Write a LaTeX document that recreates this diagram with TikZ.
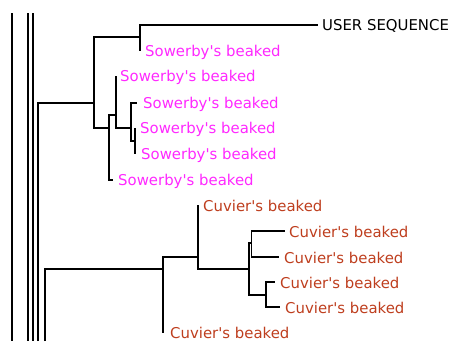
\documentclass[tikz,border=0pt]{standalone}
\usepackage{fontspec}
\setmainfont{DejaVu Sans}
\definecolor{sow}{RGB}{255,40,255}
\definecolor{cuv}{RGB}{190,62,30}
\tikzset{
  br/.style={line width=1.8pt, black},
  lab/.style={anchor=base west, inner sep=0pt, font=\fontsize{14.9}{16}\selectfont},
  sowl/.style={lab, text=sow},
  cuvl/.style={lab, text=cuv},
}
\newcommand{\sowt}{Sowerby\textquotesingle s beaked}
\newcommand{\cuvt}{Cuvier\textquotesingle s beaked}
\begin{document}
\begin{tikzpicture}[x=1pt,y=-1pt]
\useasboundingbox (0,0) rectangle (454,341);
% ancestral lines
\coordinate (a1t) at (12,13);  \coordinate (a1b) at (12,341);
\coordinate (a2t) at (28,13);  \coordinate (a2b) at (28,341);
\coordinate (a3t) at (33,13);  \coordinate (a3b) at (33,341);
\coordinate (b1) at (38,341);
\coordinate (b2) at (45,341);
\draw[br] (a1t) -- (a1b);
\draw[br] (a2t) -- (a2b);
\draw[br] (a3t) -- (a3b);
% Sowerby clade
\coordinate (S0) at (94,103);
\coordinate (S1) at (140,37);
\coordinate (S2) at (109,128);
\coordinate (S3) at (116,115);
\coordinate (S4) at (131,128);
\coordinate (S5) at (135,141);
\coordinate (L0) at (318,25);
\coordinate (L1) at (140,51);
\coordinate (L2) at (116,76);
\coordinate (L3) at (137,103);
\coordinate (L4) at (135,128);
\coordinate (L5) at (135,154);
\coordinate (L6) at (113,180);
\draw[br] (b1) |- (S0);
\draw[br] (S0) |- (S1);
\draw[br] (S0) |- (S2);
\draw[br] (S1) |- (L0);
\draw[br] (S1) |- (L1);
\draw[br] (S2) |- (S3);
\draw[br] (S2) |- (L6);
\draw[br] (S3) |- (L2);
\draw[br] (S3) |- (S4);
\draw[br] (S4) |- (L3);
\draw[br] (S4) |- (S5);
\draw[br] (S5) |- (L4);
\draw[br] (S5) |- (L5);
\node[lab] (t0) at (322,30.5) {USER SEQUENCE};
\node[sowl] (t1) at (145,56.5) {\sowt};
\node[sowl] (t2) at (120,81.5) {\sowt};
\node[sowl] (t3) at (143,108.5) {\sowt};
\node[sowl] (t4) at (140,133.5) {\sowt};
\node[sowl] (t5) at (141,159.5) {\sowt};
\node[sowl] (t6) at (118,185.5) {\sowt};
% Cuvier clade
\coordinate (C0) at (163,269);
\coordinate (C1) at (198,257);
\coordinate (C2) at (249,269);
\coordinate (C3) at (251.5,243);
\coordinate (C4) at (266,295);
\coordinate (K1) at (198,205);
\coordinate (K2) at (285,231);
\coordinate (K3) at (279,257);
\coordinate (K4) at (275,282);
\coordinate (K5) at (280,307);
\coordinate (K6) at (163,333);
\draw[br] (b2) |- (C0);
\draw[br] (C0) |- (C1);
\draw[br] (C0) |- (K6);
\draw[br] (C1) |- (K1);
\draw[br] (C1) |- (C2);
\draw[br] (C2) |- (C3);
\draw[br] (C2) |- (C4);
\draw[br] (C3) |- (K2);
\draw[br] (C3) |- (K3);
\draw[br] (C4) |- (K4);
\draw[br] (C4) |- (K5);
\node[cuvl] (k1) at (203,211) {\cuvt};
\node[cuvl] (k2) at (289,237) {\cuvt};
\node[cuvl] (k3) at (284,263) {\cuvt};
\node[cuvl] (k4) at (280,288) {\cuvt};
\node[cuvl] (k5) at (285,313) {\cuvt};
\node[cuvl] (k6) at (170,338) {\cuvt};
\end{tikzpicture}
\end{document}
